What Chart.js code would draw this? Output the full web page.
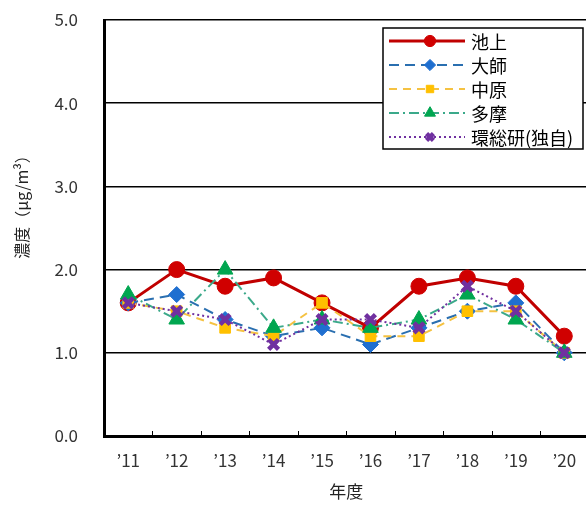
<!DOCTYPE html>
<html>
<head>
<meta charset="utf-8">
<script src="https://cdn.jsdelivr.net/npm/chart.js@4"></script>
<style>
  html, body { margin: 0; padding: 0; background: #fff; overflow: hidden; }
  #wrap { width: 600px; height: 506px; position: relative; }
</style>
</head>
<body>
<div id="wrap"><canvas id="chart" width="600" height="506"></canvas></div>
<script>
const years = ["’11", "’12", "’13", "’14", "’15", "’16", "’17", "’18", "’19", "’20"];
const ikegami  = [1.6, 2.0, 1.8, 1.9, 1.6, 1.3, 1.8, 1.9, 1.8, 1.2];
const daishi   = [1.6, 1.7, 1.4, 1.2, 1.3, 1.1, 1.3, 1.5, 1.6, 1.0];
const nakahara = [1.6, 1.5, 1.3, 1.2, 1.6, 1.2, 1.2, 1.5, 1.5, 1.0];
const tama     = [1.7, 1.4, 2.0, 1.3, 1.4, 1.3, 1.4, 1.7, 1.4, 1.0];
const kansoken = [1.6, 1.5, 1.4, 1.1, 1.4, 1.4, 1.3, 1.8, 1.5, 1.0];
const yTicks = [0, 1, 2, 3, 4, 5];
const yTitle = "濃度（μg/m³）";

const FONT = "'Noto Sans CJK JP', 'Noto Sans', sans-serif";

// legend box inside the plot, top right
const boxLegend = {
  id: "boxLegend",
  afterDraw(chart) {
    const ctx = chart.ctx;
    const x0 = 383, y0 = 28, w = 200, h = 121;
    ctx.save();
    ctx.fillStyle = "#fff";
    ctx.fillRect(x0, y0, w, h);
    ctx.strokeStyle = "#000";
    ctx.lineWidth = 1.5;
    ctx.strokeRect(x0, y0, w, h);
    chart.data.datasets.forEach((ds, i) => {
      const y = y0 + 13 + i * 24;
      ctx.save();
      ctx.strokeStyle = ds.borderColor;
      ctx.lineWidth = ds.borderWidth;
      ctx.setLineDash(ds.borderDash || []);
      ctx.beginPath();
      ctx.moveTo(x0 + 6, y);
      ctx.lineTo(x0 + 82, y);
      ctx.stroke();
      ctx.restore();
      ctx.save();
      ctx.fillStyle = ds.pointBackgroundColor;
      ctx.strokeStyle = ds.pointBorderColor;
      ctx.lineWidth = ds.pointBorderWidth;
      Chart.helpers.drawPoint(ctx, {
        pointStyle: ds.pointStyle,
        radius: ds.pointRadius * 0.7,
        borderWidth: ds.pointBorderWidth,
        rotation: 0
      }, x0 + 47, y);
      ctx.restore();
      ctx.fillStyle = "#000";
      ctx.font = "18px " + FONT;
      ctx.textBaseline = "middle";
      ctx.fillText(ds.label, x0 + 88, y + 1);
    });
    ctx.restore();
  }
};

// rotated y title, sitting a little above the middle like the original
const yTitlePlugin = {
  id: "yTitle",
  afterDraw(chart) {
    const ctx = chart.ctx;
    ctx.save();
    ctx.translate(22, 203);
    ctx.rotate(-Math.PI / 2);
    ctx.fillStyle = "#222";
    ctx.font = "16px " + FONT;
    ctx.textAlign = "center";
    ctx.textBaseline = "middle";
    ctx.fillText(yTitle, 0, 0);
    ctx.restore();
  }
};

// small tick marks at category boundaries, pointing up into the plot
const innerTicks = {
  id: "innerTicks",
  afterDatasetsDraw(chart) {
    const xs = chart.scales.x, ctx = chart.ctx;
    const bottom = chart.chartArea.bottom;
    ctx.save();
    ctx.strokeStyle = "#000";
    ctx.lineWidth = 1;
    for (let i = 0; i < years.length - 1; i++) {
      const bx = Math.round((xs.getPixelForTick(i) + xs.getPixelForTick(i + 1)) / 2) + 0.5;
      ctx.beginPath();
      ctx.moveTo(bx, bottom);
      ctx.lineTo(bx, bottom - 5);
      ctx.stroke();
    }
    ctx.restore();
  }
};

function series(label, data, color, markerColor, style, radius, width, dash, order, markerBorder) {
  return {
    label, data,
    borderColor: color,
    backgroundColor: markerColor,
    pointBackgroundColor: markerColor,
    pointBorderColor: markerColor,
    pointStyle: style,
    pointRadius: radius,
    pointBorderWidth: markerBorder || 1,
    borderWidth: width,
    borderDash: dash,
    order,
    tension: 0,
    fill: false
  };
}

const datasets = [
  series("池上", ikegami, "#C00000", "#D00000", "circle", 8, 3, [], 5),
  series("大師", daishi, "#2A6FB0", "#1F6FD0", "rectRot", 8, 2, [10, 6], 4),
  series("中原", nakahara, "#F5C242", "#FFC000", "rect", 7.5, 2, [8, 6], 3),
  series("多摩", tama, "#3BA98A", "#00A650", "triangle", 9, 2, [10, 4, 2, 4], 2),
  series("環総研(独自)", kansoken, "#7030A0", "#7030A0", "crossRot", 7, 2, [2, 3], 1, 4.5)
];

new Chart(document.getElementById("chart"), {
  type: "line",
  data: { labels: years, datasets },
  options: {
    responsive: false,
    animation: false,
    layout: { padding: { top: 20, right: 4, left: 0, bottom: 0 } },
    plugins: { legend: { display: false }, tooltip: { enabled: false } },
    scales: {
      x: {
        offset: true,
        grid: { display: false, drawTicks: false },
        border: { color: "#000", width: 3 },
        ticks: { color: "#333", font: { family: FONT, size: 17 }, padding: 14, maxRotation: 0, autoSkip: false },
        title: { display: true, text: "年度", color: "#222", font: { family: FONT, size: 17 }, padding: { top: 10 } },
        afterFit(s) { s.height = 70; }
      },
      y: {
        min: 0, max: 5,
        afterBuildTicks(s) { s.ticks = yTicks.map(v => ({ value: v })); },
        grid: { color: "#000", lineWidth: 1.5, drawTicks: true, tickLength: 24, tickColor: "rgba(0,0,0,0)" },
        border: { color: "#000", width: 3 },
        ticks: { color: "#333", font: { family: FONT, size: 17 }, padding: 2, callback: v => v.toFixed(1) },
        afterFit(s) { s.width = 104; }
      }
    }
  },
  plugins: [innerTicks, boxLegend, yTitlePlugin]
});
</script>
</body>
</html>
